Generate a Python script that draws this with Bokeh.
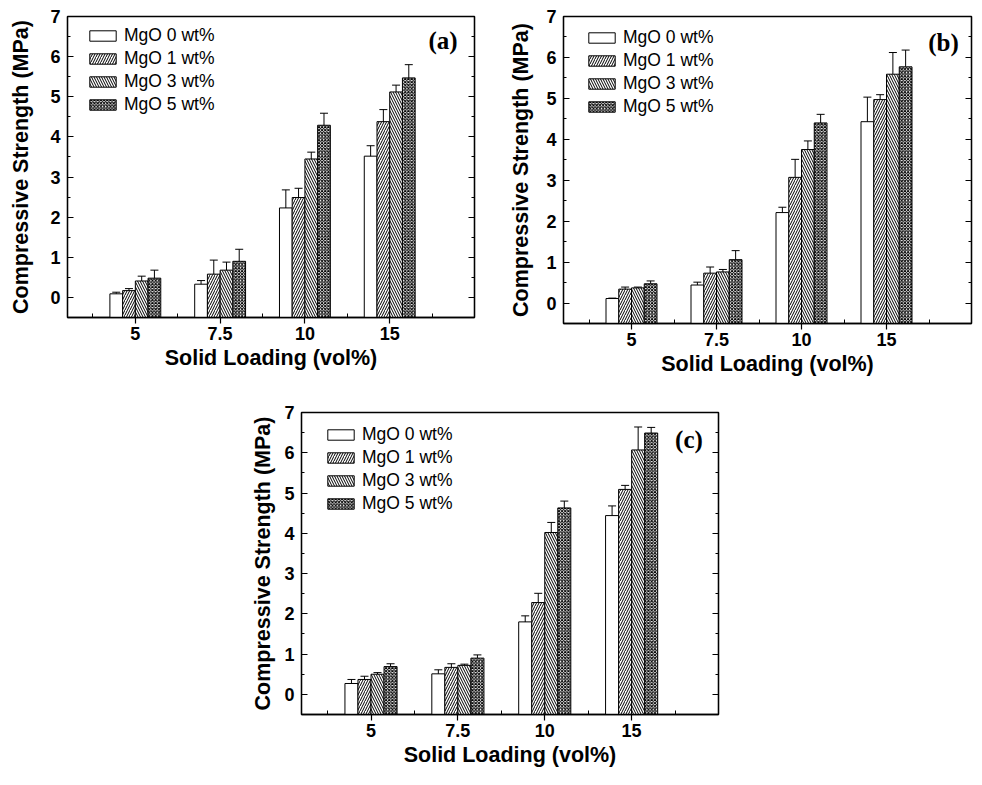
from bokeh.plotting import figure
from bokeh.models import (ColumnDataSource, Range1d, FixedTicker, LinearAxis, Whisker,
                          TeeHead, Legend, LegendItem, Label, Spacer)
from bokeh.layouts import column, row
from bokeh.transform import dodge
from bokeh.embed import file_html
from bokeh.resources import INLINE

# ---------------- data ----------------
categories = ["5", "7.5", "10", "15"]
series = ["MgO 0 wt%", "MgO 1 wt%", "MgO 3 wt%", "MgO 5 wt%"]
y_tick_values = [0, 1, 2, 3, 4, 5, 6, 7]
x_label = "Solid Loading (vol%)"
y_label = "Compressive Strength (MPa)"
panel_tags = ["(a)", "(b)", "(c)"]

# panel (a)
a_0 = [0.09, 0.33, 2.23, 3.52]
a_0_err = [0.04, 0.09, 0.45, 0.26]
a_1 = [0.17, 0.58, 2.49, 4.38]
a_1_err = [0.05, 0.35, 0.23, 0.30]
a_3 = [0.41, 0.68, 3.45, 5.12]
a_3_err = [0.12, 0.20, 0.17, 0.17]
a_5 = [0.48, 0.90, 4.29, 5.47]
a_5_err = [0.20, 0.30, 0.30, 0.33]

# panel (b)
b_0 = [0.11, 0.44, 2.21, 4.43]
b_0_err = [0.01, 0.07, 0.13, 0.60]
b_1 = [0.34, 0.73, 3.07, 4.97]
b_1_err = [0.05, 0.15, 0.44, 0.12]
b_3 = [0.37, 0.76, 3.75, 5.59]
b_3_err = [0.02, 0.06, 0.21, 0.53]
b_5 = [0.47, 1.06, 4.40, 5.77]
b_5_err = [0.07, 0.22, 0.21, 0.41]

# panel (c)
c_0 = [0.27, 0.51, 1.80, 4.44]
c_0_err = [0.10, 0.10, 0.15, 0.24]
c_1 = [0.37, 0.67, 2.28, 5.09]
c_1_err = [0.08, 0.09, 0.23, 0.10]
c_3 = [0.50, 0.72, 4.02, 6.07]
c_3_err = [0.04, 0.03, 0.25, 0.57]
c_5 = [0.69, 0.90, 4.63, 6.49]
c_5_err = [0.07, 0.08, 0.17, 0.14]

# ---------------- style ----------------
positions = [1, 2, 3, 4]
offsets = [-0.225, -0.075, 0.075, 0.225]
bar_w = 0.15
hatches = [" ", "/", "\\", "x"]
hatch_scales = [4, 5, 5, 3.2]
FONT = "Liberation Sans"


def make_panel(vals, errs, tag, fw, fh, bl, br, bt, bb, ylab_standoff,
               legend_dx, legend_top, tag_x, tag_y):
    p = figure(frame_width=fw, frame_height=fh,
               min_border_left=bl, min_border_right=br,
               min_border_top=bt, min_border_bottom=bb,
               x_range=Range1d(0.2, 5.0), y_range=Range1d(-0.5, 7.0),
               toolbar_location=None, output_backend="svg", x_axis_type=None,
               y_axis_type=None)
    p.grid.visible = False
    p.outline_line_color = "black"
    p.outline_line_width = 1.3
    p.background_fill_color = "white"
    p.border_fill_color = "white"

    xt = FixedTicker(ticks=positions, minor_ticks=[0.5, 1.5, 2.5, 3.5, 4.5])
    yt = FixedTicker(ticks=y_tick_values,
                     minor_ticks=[v + 0.5 for v in [-1] + y_tick_values[:-1]])

    xb = LinearAxis(ticker=xt, axis_label=x_label)
    xb.major_label_overrides = {pos: c for pos, c in zip(positions, categories)}
    xb.major_tick_out = 6
    xb.major_tick_in = 0
    xb.minor_tick_in = 4
    xb.minor_tick_out = 0
    xb.major_label_standoff = 3
    xb.axis_label_standoff = 3
    p.add_layout(xb, "below")

    yl = LinearAxis(ticker=yt, axis_label=y_label)
    yl.major_tick_in = 6
    yl.major_tick_out = 0
    yl.minor_tick_in = 3
    yl.minor_tick_out = 0
    yl.major_label_standoff = 7
    yl.axis_label_standoff = ylab_standoff
    p.add_layout(yl, "left")

    yr = LinearAxis(ticker=yt)
    yr.major_tick_in = 6
    yr.major_tick_out = 0
    yr.minor_tick_in = 3
    yr.minor_tick_out = 0
    yr.major_label_overrides = {v: "" for v in y_tick_values}
    yr.major_label_standoff = 0
    p.add_layout(yr, "right")

    for ax in (xb, yl, yr):
        ax.axis_line_color = "black"
        ax.axis_line_width = 1.3
        ax.major_tick_line_color = "black"
        ax.minor_tick_line_color = "black"
        ax.major_tick_line_width = 1.2
        ax.minor_tick_line_width = 1
        ax.major_label_text_font = FONT
        ax.major_label_text_font_style = "bold"
        ax.major_label_text_color = "black"
        ax.major_label_text_font_size = "18px"
        ax.axis_label_text_font = FONT
        ax.axis_label_text_font_style = "bold"
        ax.axis_label_text_color = "black"
        ax.axis_label_text_font_size = "21.5px"

    items = []
    for i, name in enumerate(series):
        top = vals[i]
        err = errs[i]
        src = ColumnDataSource(dict(
            pos=positions, top=top,
            upper=[t + e for t, e in zip(top, err)],
            lower=[t - e for t, e in zip(top, err)]))
        r = p.vbar(x=dodge("pos", offsets[i]), top="top", bottom=-0.5, width=bar_w,
                   source=src, fill_color="white", line_color="black", line_width=1,
                   hatch_pattern=hatches[i], hatch_color="black",
                   hatch_scale=hatch_scales[i], hatch_weight=1.0)
        w = Whisker(base=dodge("pos", offsets[i]), upper="upper", lower="lower",
                    source=src, line_color="black", line_width=1,
                    upper_head=TeeHead(size=8, line_color="black", line_width=1),
                    lower_head=TeeHead(size=8, line_color="black", line_width=1))
        p.add_layout(w)
        items.append(LegendItem(label=name, renderers=[r]))

    leg_h = 4 * 20 + 3 * 2
    leg = Legend(items=items, location=(legend_dx, fh - legend_top - leg_h),
                 padding=0, margin=0,
                 border_line_color=None, background_fill_alpha=0,
                 glyph_width=33, glyph_height=13, label_height=20, spacing=2,
                 label_standoff=5, label_text_font=FONT, label_text_font_size="17.5px",
                 label_text_color="black")
    p.add_layout(leg, "center")

    p.add_layout(Label(x=tag_x, y=tag_y, text=tag, text_align="right",
                       text_baseline="middle", text_font="Liberation Serif",
                       text_font_style="bold", text_font_size="25px",
                       text_color="black"))
    return p


pa = make_panel([a_0, a_1, a_3, a_5], [a_0_err, a_1_err, a_3_err, a_5_err], panel_tags[0],
                407, 301, 67, 16, 16, 64, 14, 19, 13, 4.80, 6.40)
pb = make_panel([b_0, b_1, b_3, b_5], [b_0_err, b_1_err, b_3_err, b_5_err], panel_tags[1],
                408, 307, 73, 3, 16, 58, 10, 22, 15, 4.85, 6.37)
pc = make_panel([c_0, c_1, c_3, c_5], [c_0_err, c_1_err, c_3_err, c_5_err], panel_tags[2],
                417, 302, 61, 20, 31, 55, 6, 23, 16, 4.82, 6.32)

layout = column(row(pa, pb), row(Spacer(width=240, height=10), pc))

open("out.html", "w").write(file_html(layout, INLINE))
